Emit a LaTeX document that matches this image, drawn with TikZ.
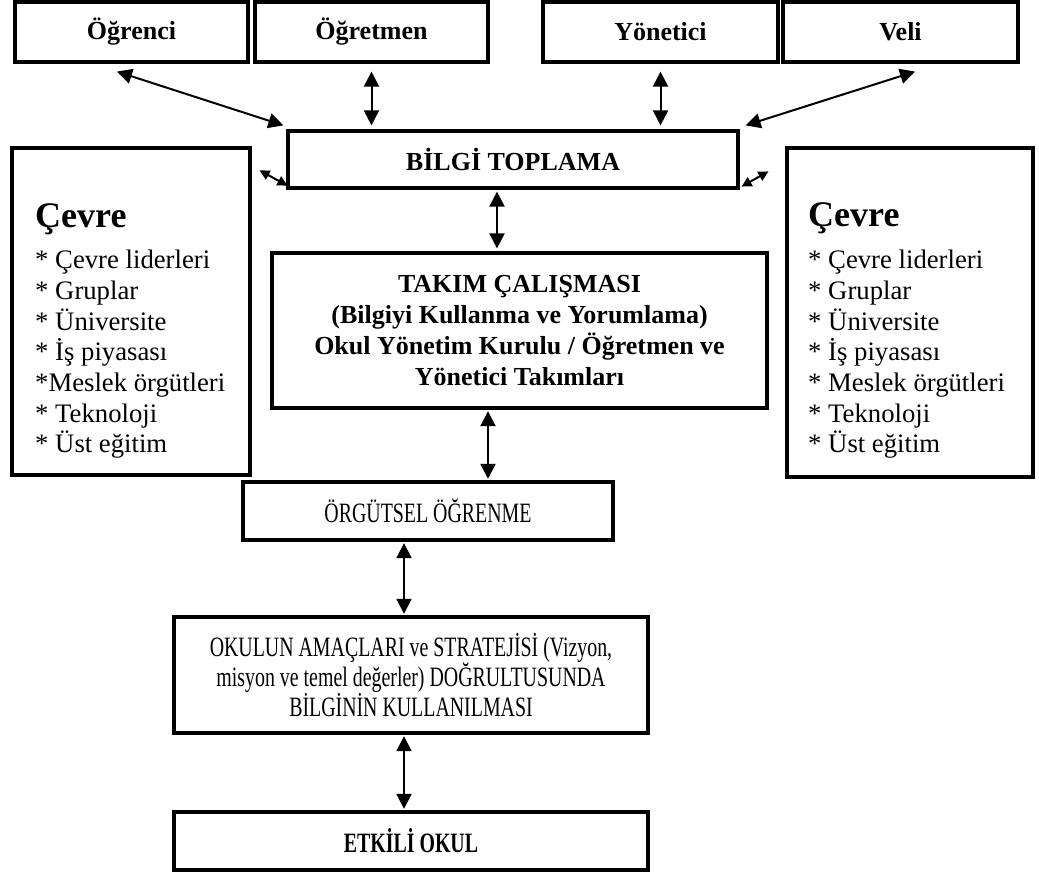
\documentclass[tikz,border=0pt]{standalone}
\usepackage{fontspec}
\setmainfont{Liberation Serif}
\newfontfamily\condserif[FakeStretch=0.71]{Liberation Serif}
\usetikzlibrary{arrows.meta}

\begin{document}
\begin{tikzpicture}[x=1pt,y=-1pt,
  box/.style={draw, line width=3.2pt, inner sep=0pt, align=center},
  boldtxt/.style={font=\fontsize{26}{30.7}\selectfont\bfseries},
  condtxt/.style={font=\condserif\fontsize{28}{30}\selectfont},
  biarrow/.style={line width=2pt,
    {Triangle[length=15pt,width=15pt]}-{Triangle[length=15pt,width=15pt]}},
  smallarrow/.style={line width=2pt,
    {Triangle[length=10pt,width=10pt]}-{Triangle[length=10pt,width=10pt]}},
  title/.style={anchor=base west, inner sep=0pt, font=\fontsize{36}{40}\selectfont\bfseries},
  itemlist/.style={anchor=north west, inner sep=0pt, align=left, font=\fontsize{26.7}{30.7}\selectfont}
]
\useasboundingbox (0,0) rectangle (1039,874);

% stakeholder boxes along the top
\node[box, boldtxt, minimum width=233pt, minimum height=60pt] (ogrenci)  at (131.5,32) {Öğrenci};
\node[box, boldtxt, minimum width=233pt, minimum height=60pt] (ogretmen) at (371.5,32) {Öğretmen};
\node[box, boldtxt, minimum width=235pt, minimum height=60pt] (yonetici) at (660.5,32) {Yönetici};
\node[box, boldtxt, minimum width=235pt, minimum height=60pt] (veli)     at (900.5,32) {Veli};

% information gathering
\node[box, boldtxt, minimum width=450pt, minimum height=57pt] (bilgi) at (513,159.5) {BİLGİ TOPLAMA};

% environment boxes on both sides
\node[box, minimum width=238pt, minimum height=327pt] (cevreL) at (131,311.5) {};
\node[box, minimum width=246pt, minimum height=329pt] (cevreR) at (910,312.5) {};

\node[title] (cevreLt) at (35,228) {Çevre};
\node[itemlist] (cevreLl) at (35,250) {%
  * Çevre liderleri\\
  * Gruplar\\
  * Üniversite\\
  * İş piyasası\\
  *Meslek örgütleri\\
  * Teknoloji\\
  * Üst eğitim};

\node[title] (cevreRt) at (808,227) {Çevre};
\node[itemlist] (cevreRl) at (808,250) {%
  * Çevre liderleri\\
  * Gruplar\\
  * Üniversite\\
  * İş piyasası\\
  * Meslek örgütleri\\
  * Teknoloji\\
  * Üst eğitim};

% central column
\node[box, boldtxt, minimum width=495pt, minimum height=155pt] (takim) at (519.5,330.5)
  {TAKIM ÇALIŞMASI\\(Bilgiyi Kullanma ve Yorumlama)\\Okul Yönetim Kurulu / Öğretmen ve\\Yönetici Takımları};
\node[box, condtxt, minimum width=370pt, minimum height=58pt] (orgutsel) at (428,511) {ÖRGÜTSEL ÖĞRENME};
\node[box, condtxt, minimum width=474pt, minimum height=116pt] (okulun) at (411,675)
  {OKULUN AMAÇLARI ve STRATEJİSİ (Vizyon,\\misyon ve temel değerler) DOĞRULTUSUNDA\\BİLGİNİN KULLANILMASI};
\node[box, font=\condserif\fontsize{28}{30}\selectfont\bfseries, minimum width=474pt, minimum height=58pt] (etkili) at (411,841) {ETKİLİ OKUL};

% connectors from stakeholders to information gathering
\draw[biarrow] ([xshift=-14.5pt,yshift=-8pt]ogrenci.south) -- ([xshift=-3pt,yshift=4pt]bilgi.north west);
\draw[biarrow, shorten <=8pt, shorten >=4pt] (ogretmen.south) -- (ogretmen.south |- bilgi.north);
\draw[biarrow, shorten <=8pt, shorten >=4pt] (yonetici.south) -- (yonetici.south |- bilgi.north);
\draw[biarrow] ([xshift=14.5pt,yshift=-8pt]veli.south) -- ([xshift=6pt,yshift=4pt]bilgi.north east);

% connectors to the environment boxes
\draw[smallarrow] ([xshift=8pt,yshift=-24pt]cevreL.north east) -- ([xshift=1pt,yshift=4pt]bilgi.south west);
\draw[smallarrow] ([xshift=2pt,yshift=3pt]bilgi.south east) -- ([xshift=-17pt,yshift=-25pt]cevreR.north west);

% connectors down the central column
\coordinate (c1) at ([xshift=-16pt]bilgi.south);
\draw[biarrow, shorten <=2pt, shorten >=3pt] (c1) -- (c1 |- takim.north);
\coordinate (c2) at ([xshift=-31.5pt]takim.south);
\draw[biarrow, shorten <=1.6pt, shorten >=1.6pt] (c2) -- (c2 |- orgutsel.north);
\coordinate (c3) at ([xshift=-24pt]orgutsel.south);
\draw[biarrow, shorten <=1.6pt, shorten >=1.6pt] (c3) -- (c3 |- okulun.north);
\coordinate (c4) at ([xshift=-7pt]okulun.south);
\draw[biarrow, shorten <=1.6pt, shorten >=1.6pt] (c4) -- (c4 |- etkili.north);
\end{tikzpicture}
\end{document}
